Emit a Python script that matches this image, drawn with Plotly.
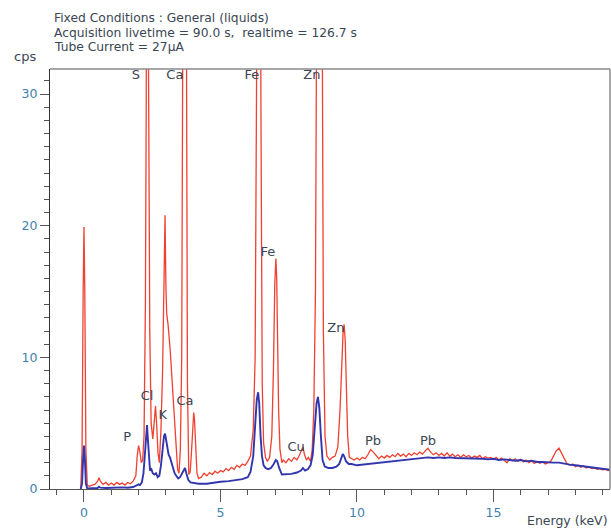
import plotly.graph_objects as go

# ---------------- data ----------------
red_kev = [-0.12, -0.07, -0.03, 0.0, 0.03, 0.07, 0.12,
           0.2, 0.3, 0.4, 0.5, 0.55, 0.6, 0.7, 0.8, 0.9, 1.0, 1.1, 1.2, 1.3, 1.4, 1.5, 1.6, 1.7, 1.8, 1.9,
           1.95, 2.0, 2.05, 2.1, 2.15, 2.2, 2.25, 2.28, 2.3, 2.34, 2.37, 2.41, 2.46, 2.52, 2.57, 2.62, 2.66, 2.71, 2.76,
           2.82, 2.88, 2.93, 2.97, 3.0, 3.03, 3.08, 3.12, 3.16, 3.22, 3.28, 3.33, 3.38, 3.43, 3.48, 3.53, 3.58, 3.62,
           3.66, 3.72, 3.75, 3.79, 3.84, 3.89, 3.93, 3.98, 4.02, 4.05, 4.09, 4.14, 4.2,
           4.3, 4.4, 4.5, 4.6, 4.7, 4.8, 4.9, 5.0, 5.1, 5.2, 5.3, 5.4, 5.5, 5.6, 5.7, 5.8, 5.9, 6.0, 6.1,
           6.2, 6.27, 6.32, 6.36, 6.44, 6.48, 6.53, 6.58, 6.65, 6.72, 6.8, 6.88, 6.94, 6.99, 7.03, 7.06, 7.09, 7.13, 7.18,
           7.25, 7.3, 7.4, 7.5, 7.6, 7.7, 7.8, 7.9, 7.97, 8.02, 8.08, 8.15, 8.22, 8.3, 8.36, 8.42, 8.48, 8.53, 8.58,
           8.68, 8.72, 8.77, 8.83, 8.9, 9.0, 9.1, 9.2, 9.3, 9.38, 9.44, 9.49, 9.53, 9.57, 9.61, 9.66, 9.72,
           9.8, 9.9, 10.0, 10.1, 10.2, 10.3, 10.4, 10.5, 10.6, 10.7, 10.8, 10.9, 11.0, 11.1, 11.2, 11.3, 11.4, 11.5,
           11.6, 11.7, 11.8, 11.9, 12.0, 12.1, 12.2, 12.3, 12.4, 12.5, 12.6, 12.7, 12.8, 12.9, 13.0, 13.1, 13.2, 13.3,
           13.4, 13.5, 13.6, 13.7, 13.8, 13.9, 14.0, 14.1, 14.2, 14.3, 14.4, 14.5, 14.6, 14.7, 14.8, 14.9, 15.0, 15.1,
           15.2, 15.3, 15.4, 15.5, 15.6, 15.7, 15.8, 15.9, 16.0, 16.1, 16.2, 16.3, 16.4, 16.5, 16.6, 16.7, 16.8, 16.9,
           17.0, 17.1, 17.2, 17.3, 17.4, 17.5, 17.6, 17.7, 17.8, 17.9, 18.0, 18.1, 18.2, 18.3, 18.4, 18.5, 18.6, 18.7,
           18.8, 18.9, 19.0, 19.1, 19.2, 19.3]
red_cps = [0.0, 3.0, 15.0, 19.9, 15.0, 3.0, 0.3,
           0.2, 0.3, 0.35, 0.6, 0.85, 0.6, 0.35, 0.5, 0.3, 0.45, 0.3, 0.5, 0.35, 0.45, 0.3, 0.5, 0.4, 0.6, 1.0,
           2.5, 3.3, 2.8, 2.0, 2.2, 4.0, 14.0, 29.0, 60.0, 60.0, 28.5, 12.0, 5.0, 3.8, 5.0, 6.3, 5.0, 2.8, 2.0,
           4.5, 9.0, 16.0, 20.8, 15.5, 13.3, 12.5, 11.0, 10.5, 8.5, 6.5, 4.5, 2.5, 1.5, 1.2, 3.0, 10.0, 28.7,
           60.0, 60.0, 25.0, 8.0, 1.1, 1.3, 2.5, 5.0, 5.8, 5.2, 3.0, 1.2, 0.8,
           0.9, 1.2, 1.0, 1.25, 1.1, 1.35, 1.2, 1.4, 1.3, 1.55, 1.4, 1.65, 1.5, 1.8, 1.65, 1.9, 1.8, 2.1, 2.5,
           4.5, 10.0, 30.0, 90.0, 90.0, 30.0, 8.0, 3.5, 2.4, 2.1, 2.4, 4.0, 9.0, 15.6, 17.5, 16.0, 12.0, 6.0, 3.0,
           2.0, 2.2, 2.0, 2.3, 2.1, 2.4, 2.2, 2.6, 2.9, 3.2, 2.6, 2.2, 2.4, 2.1, 3.0, 6.0, 15.0, 40.0, 80.0,
           80.0, 40.0, 12.0, 4.0, 2.5, 2.2, 2.4, 2.5, 3.2, 6.0, 10.0, 11.8, 12.5, 11.3, 8.0, 4.0, 2.4,
           2.3, 2.2, 2.35, 2.2, 2.4, 2.3, 2.6, 3.0, 2.8, 2.5, 2.3, 2.5, 2.35, 2.55, 2.4, 2.6, 2.45, 2.7,
           2.5, 2.65, 2.45, 2.7, 2.55, 2.75, 2.6, 2.8, 2.65, 2.9, 3.1, 2.8, 2.6, 2.75, 2.55, 2.7, 2.5, 2.75,
           2.5, 2.65, 2.45, 2.6, 2.4, 2.6, 2.45, 2.55, 2.35, 2.5, 2.4, 2.55, 2.3, 2.45, 2.35, 2.4, 2.25, 2.4,
           2.2, 2.35, 2.15, 2.0, 2.3, 2.15, 2.3, 2.1, 2.25, 2.05, 2.2, 2.0, 2.15, 1.95, 2.1, 1.95, 2.05, 1.9,
           2.0, 2.1, 2.5, 2.9, 3.1, 2.7, 2.2, 1.9, 1.8, 1.9, 1.7, 1.8, 1.65, 1.75, 1.6, 1.7, 1.55, 1.6,
           1.5, 1.55, 1.45, 1.5, 1.4, 1.45]

blue_kev = [-0.12, -0.07, -0.03, 0.0, 0.03, 0.07, 0.12, 0.3, 0.5, 0.55, 0.6, 0.8, 1.0, 1.2, 1.4, 1.6, 1.8,
            1.95, 2.0, 2.05, 2.12, 2.18, 2.24, 2.28, 2.31, 2.34, 2.38, 2.42, 2.47, 2.52, 2.58, 2.64, 2.7, 2.76,
            2.82, 2.88, 2.93, 2.97, 3.0, 3.05, 3.1, 3.15, 3.2, 3.26, 3.32, 3.38, 3.45, 3.52, 3.6, 3.66, 3.7, 3.75,
            3.82, 3.9, 4.0, 4.2, 4.5, 4.8, 5.0, 5.3, 5.6, 5.8, 6.0, 6.1, 6.2, 6.27, 6.33, 6.38, 6.42, 6.47, 6.52,
            6.58, 6.65, 6.75, 6.85, 6.95, 7.03, 7.08, 7.15, 7.25, 7.4, 7.6, 7.8, 7.95, 8.02, 8.1, 8.2, 8.3, 8.38,
            8.45, 8.52, 8.57, 8.62, 8.68, 8.74, 8.82, 8.95, 9.1, 9.25, 9.35, 9.42, 9.48, 9.53, 9.6, 9.7, 9.8,
            10.0, 10.2, 10.4, 10.6, 10.8, 11.0, 11.2, 11.4, 11.6, 11.8, 12.0, 12.2, 12.4, 12.6, 12.8, 13.0, 13.2,
            13.4, 13.6, 13.8, 14.0, 14.2, 14.4, 14.6, 14.8, 15.0, 15.2, 15.4, 15.6, 15.8, 16.0, 16.2, 16.4, 16.6,
            16.8, 17.0, 17.2, 17.4, 17.6, 17.8, 18.0, 18.2, 18.4, 18.6, 18.8, 19.0, 19.2, 19.3]
blue_cps = [0.0, 0.4, 2.4, 3.3, 2.4, 0.4, 0.05, 0.05, 0.08, 0.18, 0.1, 0.08, 0.1, 0.08, 0.12, 0.1, 0.15,
            0.3, 0.35, 0.3, 0.5, 1.2, 3.0, 4.5, 4.85, 3.8, 2.0, 1.4, 1.5, 1.2, 1.1, 1.2, 0.9, 1.0,
            1.8, 3.2, 4.0, 4.2, 3.8, 3.0, 2.6, 2.4, 2.0, 1.6, 1.2, 1.0, 0.8, 0.9, 1.2, 1.5, 1.6, 1.2,
            0.7, 0.5, 0.45, 0.4, 0.4, 0.5, 0.55, 0.6, 0.7, 0.75, 0.9, 1.3, 2.5, 4.5, 6.8, 7.35, 6.5, 4.0, 2.5,
            1.8, 1.6, 1.5, 1.6, 1.9, 2.2, 2.1, 1.6, 1.1, 1.1, 1.15, 1.25, 1.4, 1.6, 1.4, 1.5, 1.8, 2.6,
            4.5, 6.5, 7.0, 6.2, 4.0, 2.2, 1.7, 1.6, 1.6, 1.7, 1.9, 2.3, 2.65, 2.5, 2.1, 1.9, 1.9,
            1.8, 1.85, 1.9, 1.95, 1.95, 2.05, 2.05, 2.15, 2.15, 2.25, 2.25, 2.3, 2.35, 2.4, 2.35, 2.4, 2.35,
            2.4, 2.35, 2.35, 2.3, 2.35, 2.3, 2.3, 2.25, 2.3, 2.2, 2.25, 2.2, 2.15, 2.2, 2.1, 2.15, 2.05,
            2.05, 2.0, 2.0, 2.0, 1.9, 1.85, 1.8, 1.75, 1.7, 1.65, 1.6, 1.55, 1.5, 1.45]

label_text = ["S", "Ca", "Fe", "Zn", "Fe", "Zn", "Cl", "K", "Ca", "P", "Cu", "Pb", "Pb"]
label_kev = [1.9, 3.33, 6.15, 8.35, 6.74, 9.23, 2.31, 2.89, 3.70, 1.58, 7.77, 10.59, 12.6]
label_cps = [31.4, 31.4, 31.4, 31.4, 17.95, 12.2, 7.0, 5.6, 6.6, 3.9, 3.1, 3.56, 3.6]

header_lines = ["Fixed Conditions : General (liquids)",
                "Acquisition livetime = 90.0 s,  realtime = 126.7 s",
                "Tube Current = 27\u00b5A"]

x_range = [-1.245, 19.27]
y_range = [0, 31.9]
x_ticks = [0, 5, 10, 15]
y_ticks = [0, 10, 20, 30]

# ---------------- figure ----------------
FONT = "DejaVu Sans, Liberation Sans, Arial, sans-serif"
TEXT_C = "#3a4654"
TICK_C = "#3f7fae"

fig = go.Figure()
fig.add_trace(go.Scatter(x=red_kev, y=red_cps, mode="lines",
                         line=dict(color="#f0402f", width=1.3), hoverinfo="skip"))
fig.add_trace(go.Scatter(x=blue_kev, y=blue_cps, mode="lines",
                         line=dict(color="#3236ae", width=1.9), hoverinfo="skip"))
fig.add_trace(go.Scatter(x=label_kev, y=label_cps, mode="text", text=label_text,
                         textposition="middle center",
                         textfont=dict(family=FONT, size=13, color=TEXT_C),
                         hoverinfo="skip", cliponaxis=False))

fig.update_layout(
    width=611, height=531,
    margin=dict(l=50, r=1, t=69, b=42),
    paper_bgcolor="white", plot_bgcolor="white",
    showlegend=False,
    font=dict(family=FONT, size=13, color=TEXT_C),
)
fig.update_xaxes(range=x_range, tickvals=x_ticks, ticks="outside", ticklen=12, tickwidth=1,
                 tickcolor="#555", showline=True, linecolor="#555", linewidth=1,
                 showgrid=False, zeroline=False,
                 tickfont=dict(family=FONT, size=12.5, color=TICK_C),
                 minor=dict(dtick=1, tick0=0, ticks="outside", ticklen=5, tickcolor="#555", showgrid=False))
fig.update_yaxes(range=y_range, tickvals=y_ticks, ticks="outside", ticklen=9, tickwidth=1,
                 tickcolor="#555", showline=True, linecolor="#333", linewidth=1,
                 showgrid=False, zeroline=False,
                 tickfont=dict(family=FONT, size=12.5, color=TICK_C),
                 minor=dict(dtick=1, tick0=0, ticks="outside", ticklen=5, tickcolor="#555", showgrid=False))

# top / right frame
fig.add_shape(type="line", xref="paper", yref="paper", x0=0, x1=1, y0=1, y1=1,
              line=dict(color="#8a8a8a", width=1.5))
fig.add_shape(type="line", xref="paper", yref="paper", x0=1, x1=1, y0=0, y1=1,
              line=dict(color="#8a8a8a", width=1.5))

for i, t in enumerate(header_lines):
    fig.add_annotation(text=t, xref="paper", yref="paper", x=0.004, y=1.1214 - i * 0.035,
                       xanchor="left", yanchor="middle", showarrow=False,
                       font=dict(family=FONT, size=12.3, color=TEXT_C))
fig.add_annotation(text="cps", xref="paper", yref="paper", x=-0.068, y=1.0286,
                   xanchor="left", yanchor="middle", showarrow=False,
                   font=dict(family=FONT, size=13, color=TEXT_C))
fig.add_annotation(text="Energy (keV)", xref="paper", yref="paper", x=1.0, y=-0.074,
                   xanchor="right", yanchor="middle", showarrow=False,
                   font=dict(family=FONT, size=12.5, color=TEXT_C))

fig.write_html("out.html")
